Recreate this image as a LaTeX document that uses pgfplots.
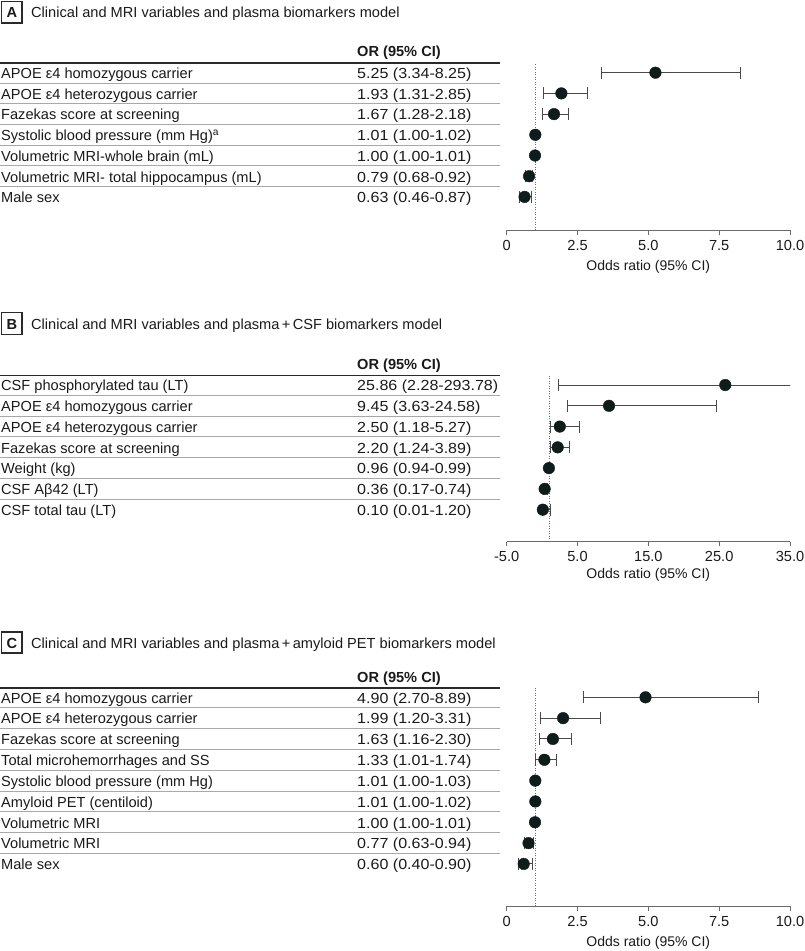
\documentclass[border=0pt]{standalone}
\usepackage{fontspec}
\setmainfont{Liberation Sans}
\newfontfamily\numfont{Liberation Sans}[FakeStretch=1.1]
\usepackage{pgfplots}
\pgfplotsset{compat=1.18}
\usepackage{pgfplotstable}

\definecolor{dotc}{HTML}{0F1C1C}
\definecolor{barc}{HTML}{4A4A4A}
\definecolor{sepc}{HTML}{A8A8A8}
\definecolor{rulec}{HTML}{2A2A2A}
\definecolor{axc}{HTML}{6A6A6A}
\definecolor{txt}{HTML}{1A1A1A}

\newcommand\tfont{\fontsize{14.6}{17}\selectfont}
\newcommand\xfont{\fontsize{14}{16}\selectfont}

% row index, odds ratio, lower and upper 95% CI
\pgfplotstableread{
i or lo hi
0 5.25 3.34 8.25
1 1.93 1.31 2.85
2 1.67 1.28 2.18
3 1.01 1.00 1.02
4 1.00 1.00 1.01
5 0.79 0.68 0.92
6 0.63 0.46 0.87
}\dataA
\pgfplotstableread{
i or lo hi
0 25.86 2.28 293.78
1 9.45 3.63 24.58
2 2.50 1.18 5.27
3 2.20 1.24 3.89
4 0.96 0.94 0.99
5 0.36 0.17 0.74
6 0.10 0.01 1.20
}\dataB
\pgfplotstableread{
i or lo hi
0 4.90 2.70 8.89
1 1.99 1.20 3.31
2 1.63 1.16 2.30
3 1.33 1.01 1.74
4 1.01 1.00 1.03
5 1.01 1.00 1.02
6 1.00 1.00 1.01
7 0.77 0.63 0.94
8 0.60 0.40 0.90
}\dataC

\pgfplotsset{
  forest/.style={
    scale only axis, width=283.3pt,
    anchor=south west,
    axis x line*=bottom, axis y line=none,
    x axis line style={-, draw=axc, line width=1pt},
    xtick align=outside, major tick length=4.5pt,
    xtick style={draw=axc, line width=1pt},
    ytick=\empty,
    xticklabel style={font=\tfont, text=txt, anchor=base, inner sep=0pt, yshift=-15.5pt},
    clip=true,
  },
  fplot/.style={
    only marks, mark=*, mark size=5.8pt,
    mark options={fill=dotc, draw=dotc},
    error bars/.cd, x dir=both, x explicit,
    error bar style={barc, line width=1pt},
    error mark options={barc, mark size=6pt, line width=1pt, rotate=90},
  },
}

\begin{document}
\begin{tikzpicture}[x=1pt,y=1pt]
\path[use as bounding box] (0,0) rectangle (805,-951);

% ---------------- Panel A ----------------
\begin{axis}[forest, at={(506.7pt,-230pt)}, height=167.3pt,
  xmin=0, xmax=10, ymin=-7.599, ymax=0.483,
  xtick={0,2.5,5,7.5,10}, xticklabels={0,2.5,5.0,7.5,10.0}]
  \draw[axc, line width=0.9pt, dash pattern=on 1pt off 1.5pt]
    ({axis cs:1,0} |- {rel axis cs:0,0}) -- ({axis cs:1,0} |- {rel axis cs:0,1});
  \addplot[fplot] table[x=or, y expr=-\thisrow{i},
    x error plus expr=\thisrow{hi}-\thisrow{or},
    x error minus expr=\thisrow{or}-\thisrow{lo}]{\dataA};
\end{axis}
\draw[rulec, line width=1.2pt] (1.7,-1.7) rectangle (22,-23);
\node[anchor=base, inner sep=0, text=txt] at (11.85,-17.5) {\tfont\bfseries A};
\node[anchor=base west, inner sep=0, text=txt] at (31,-17.5) {\tfont Clinical and MRI variables and plasma biomarkers model};
\node[anchor=base west, inner sep=0, text=txt] at (357,-56.3) {\tfont\bfseries OR (95\% CI)};
\draw[rulec, line width=1.8pt] (0,-62.7) -- (499.5,-62.7);
\foreach \k in {0,...,5} \draw[sepc, line width=1pt] (0,{-(72.7+20.7*\k+10.35)}) -- (499.5,{-(72.7+20.7*\k+10.35)});
\foreach \l/\v [count=\k from 0] in {
  APOE ε4 homozygous carrier/5.25 (3.34-8.25),
  APOE ε4 heterozygous carrier/1.93 (1.31-2.85),
  Fazekas score at screening/1.67 (1.28-2.18),
  Systolic blood pressure (mm Hg)\textsuperscript{a}/1.01 (1.00-1.02),
  Volumetric MRI-whole brain (mL)/1.00 (1.00-1.01),
  Volumetric MRI- total hippocampus (mL)/0.79 (0.68-0.92),
  Male sex/0.63 (0.46-0.87)}{
  \node[anchor=base west, inner sep=0, text=txt] at (1,{-(72.7+20.7*\k+5.8)}) {\tfont \l};
  \node[anchor=base west, inner sep=0, text=txt] at (357,{-(72.7+20.7*\k+5.8)}) {\tfont\numfont \v};
}
\node[anchor=base, inner sep=0, text=txt] at (648.3,-270.5) {\xfont Odds ratio (95\% CI)};

% ---------------- Panel B ----------------
\begin{axis}[forest, at={(506.7pt,-541.7pt)}, height=166.2pt,
  xmin=-5, xmax=35, ymin=-7.541, ymax=0.457,
  xtick={-5,5,15,25,35}, xticklabels={-5.0,5.0,15.0,25.0,35.0}]
  \draw[axc, line width=0.9pt, dash pattern=on 1pt off 1.5pt]
    ({axis cs:1,0} |- {rel axis cs:0,0}) -- ({axis cs:1,0} |- {rel axis cs:0,1});
  \addplot[fplot] table[x=or, y expr=-\thisrow{i},
    x error plus expr=\thisrow{hi}-\thisrow{or},
    x error minus expr=\thisrow{or}-\thisrow{lo}]{\dataB};
\end{axis}
\draw[rulec, line width=1.2pt] (1.7,-312.7) rectangle (22,-334.3);
\node[anchor=base, inner sep=0, text=txt] at (11.85,-329) {\tfont\bfseries B};
\node[anchor=base west, inner sep=0, text=txt] at (31,-329) {\tfont Clinical and MRI variables and plasma\,+\,CSF biomarkers model};
\node[anchor=base west, inner sep=0, text=txt] at (357,-369.5) {\tfont\bfseries OR (95\% CI)};
\draw[rulec, line width=1.8pt] (0,-375.5) -- (499.5,-375.5);
\foreach \k in {0,...,5} \draw[sepc, line width=1pt] (0,{-(385+20.78*\k+10.39)}) -- (499.5,{-(385+20.78*\k+10.39)});
\foreach \l/\v [count=\k from 0] in {
  CSF phosphorylated tau (LT)/25.86 (2.28-293.78),
  APOE ε4 homozygous carrier/9.45 (3.63-24.58),
  APOE ε4 heterozygous carrier/2.50 (1.18-5.27),
  Fazekas score at screening/2.20 (1.24-3.89),
  Weight (kg)/0.96 (0.94-0.99),
  CSF Aβ42 (LT)/0.36 (0.17-0.74),
  CSF total tau (LT)/0.10 (0.01-1.20)}{
  \node[anchor=base west, inner sep=0, text=txt] at (1,{-(385+20.78*\k+5.8)}) {\tfont \l};
  \node[anchor=base west, inner sep=0, text=txt] at (357,{-(385+20.78*\k+5.8)}) {\tfont\numfont \v};
}
\node[anchor=base, inner sep=0, text=txt] at (648.3,-578.5) {\xfont Odds ratio (95\% CI)};

% ---------------- Panel C ----------------
\begin{axis}[forest, at={(506.7pt,-906pt)}, height=217.7pt,
  xmin=0, xmax=10, ymin=-10.019, ymax=0.432,
  xtick={0,2.5,5,7.5,10}, xticklabels={0,2.5,5.0,7.5,10.0}]
  \draw[axc, line width=0.9pt, dash pattern=on 1pt off 1.5pt]
    ({axis cs:1,0} |- {rel axis cs:0,0}) -- ({axis cs:1,0} |- {rel axis cs:0,1});
  \addplot[fplot] table[x=or, y expr=-\thisrow{i},
    x error plus expr=\thisrow{hi}-\thisrow{or},
    x error minus expr=\thisrow{or}-\thisrow{lo}]{\dataC};
\end{axis}
\draw[rulec, line width=1.2pt] (1.7,-632) rectangle (22,-653);
\node[anchor=base, inner sep=0, text=txt] at (11.85,-648) {\tfont\bfseries C};
\node[anchor=base west, inner sep=0, text=txt] at (31,-648) {\tfont Clinical and MRI variables and plasma\,+\,amyloid PET biomarkers model};
\node[anchor=base west, inner sep=0, text=txt] at (357,-682) {\tfont\bfseries OR (95\% CI)};
\draw[rulec, line width=1.8pt] (0,-688.3) -- (499.5,-688.3);
\foreach \k in {0,...,7} \draw[sepc, line width=1pt] (0,{-(697.3+20.83*\k+10.4)}) -- (499.5,{-(697.3+20.83*\k+10.4)});
\foreach \l/\v [count=\k from 0] in {
  APOE ε4 homozygous carrier/4.90 (2.70-8.89),
  APOE ε4 heterozygous carrier/1.99 (1.20-3.31),
  Fazekas score at screening/1.63 (1.16-2.30),
  Total microhemorrhages and SS/1.33 (1.01-1.74),
  Systolic blood pressure (mm Hg)/1.01 (1.00-1.03),
  Amyloid PET (centiloid)/1.01 (1.00-1.02),
  Volumetric MRI/1.00 (1.00-1.01),
  Volumetric MRI/0.77 (0.63-0.94),
  Male sex/0.60 (0.40-0.90)}{
  \node[anchor=base west, inner sep=0, text=txt] at (1,{-(697.3+20.83*\k+5.8)}) {\tfont \l};
  \node[anchor=base west, inner sep=0, text=txt] at (357,{-(697.3+20.83*\k+5.8)}) {\tfont\numfont \v};
}
\node[anchor=base, inner sep=0, text=txt] at (648.3,-946.5) {\xfont Odds ratio (95\% CI)};
\end{tikzpicture}
\end{document}
